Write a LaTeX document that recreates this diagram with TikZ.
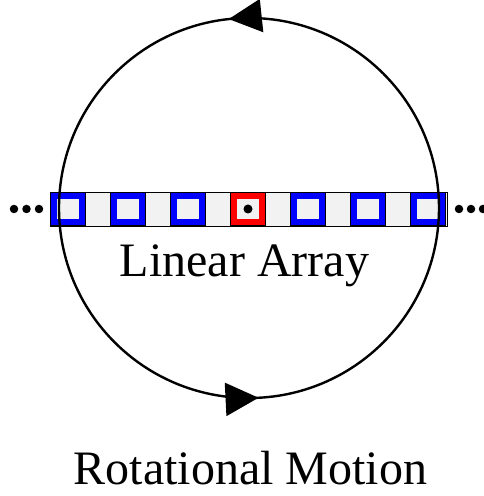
\documentclass[tikz,border=0pt]{standalone}
\usepackage{fontspec}
\setmainfont{Liberation Serif}
\newfontfamily\labelfont{Liberation Serif}
\usetikzlibrary{arrows.meta,decorations.markings}

\tikzset{
cellbox/.style={
draw=black,
line width=0.6pt,
double distance=6pt,
inner sep=0pt,
minimum width=28.8pt,
minimum height=26.8pt
},
dotmark/.style={
circle,
fill=black,
draw=none,
inner sep=0pt,
minimum size=8.5pt
},
labeltext/.style={
anchor=base,
inner sep=0pt,
font=\labelfont\fontsize{48}{56}\selectfont
}
}

\begin{document}
\begin{tikzpicture}[x=1pt,y=1pt]

\useasboundingbox (0,0) rectangle (484,496);

% Barre du tableau lineaire
\node[
draw=black,
line width=0.6pt,
fill=gray!10,
inner sep=0pt,
minimum width=397pt,
minimum height=34pt
]
(bar) at (248.5,287) {};

% Cellules
\foreach \k in {0,1,2,4,5,6}
{
\node[cellbox,double=blue] (cell\k) at (68+60*\k,287) {};
}
\node[cellbox,double=red] (cell3) at (248,287) {};
\node[dotmark,minimum size=9pt] (centre) at (cell3.center) {};

% Points de suspension
\foreach \k in {0,1,2}
{
\node[dotmark] (ldot\k) at (14+12.5*\k,287) {};
\node[dotmark] (rdot\k) at (459+12*\k,287) {};
}

% Cercle de rotation
\draw[
line width=2.4pt,
postaction={decorate},
decoration={markings,
mark=at position 0.267 with {\arrow{Triangle[length=33pt,width=33pt]}},
mark=at position 0.758 with {\arrow{Triangle[length=33pt,width=33pt]}}
}
]
(249,288) circle (190pt);

% Textes
\node[labeltext] (arraylabel) at (244.5,219) {Linear Array};

\node[labeltext] (motionlabel) at (250.5,11) {Rotational Motion};

\end{tikzpicture}
\end{document}
